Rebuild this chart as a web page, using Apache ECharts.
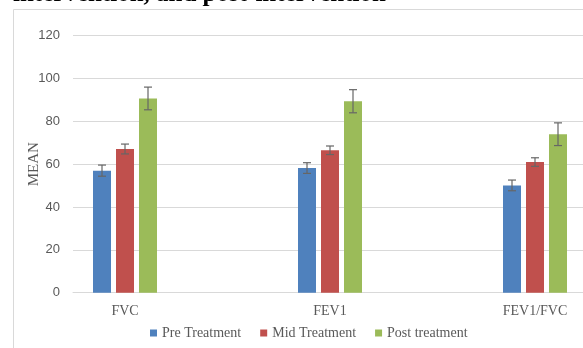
<!DOCTYPE html>
<html>
<head>
<meta charset="utf-8">
<script src="https://cdn.jsdelivr.net/npm/echarts@6/dist/echarts.min.js"></script>
<style>
  html, body { margin: 0; padding: 0; background: #fff; }
  #chart { width: 583px; height: 348px; }
</style>
</head>
<body>
<div id="chart"></div>
<script>
  var categories = ['FVC', 'FEV1', 'FEV1/FVC'];
  var seriesNames = ['Pre Treatment', 'Mid Treatment', 'Post treatment'];
  var preMean = [57, 58.2, 50.1];
  var midMean = [67.1, 66.5, 61];
  var postMean = [90.7, 89.4, 74];
  var preErr = [2.6, 2.5, 2.5];
  var midErr = [2.3, 2, 2];
  var postErr = [5.3, 5.4, 5.3];
  var yTicks = [0, 20, 40, 60, 80, 100, 120];

  var colors = ['#4F81BD', '#C0504D', '#9BBB59'];
  var barW = 18, gapPx = 5;
  var serif = '"Liberation Serif", "Times New Roman", serif';
  var grey = '#595959';

  // ── error bars: whisker centred on each bar of the cluster ──
  function errorSeries(name, means, errs, k) {
    var offset = (k - 1) * (barW + gapPx);
    var data = means.map(function (m, i) { return [i, m - errs[i], m + errs[i]]; });
    return {
      name: name, type: 'custom', xAxisIndex: 1, yAxisIndex: 1, z: 5,
      encode: { x: 0, y: [1, 2] },
      data: data,
      renderItem: function (params, api) {
        var lo = api.coord([api.value(0), api.value(1)]);
        var hi = api.coord([api.value(0), api.value(2)]);
        var x = lo[0] + offset, cap = 4;
        var st = { stroke: '#666', lineWidth: 1.2 };
        return {
          type: 'group',
          children: [
            { type: 'line', shape: { x1: x, y1: lo[1], x2: x, y2: hi[1] }, style: st },
            { type: 'line', shape: { x1: x - cap, y1: lo[1], x2: x + cap, y2: lo[1] }, style: st },
            { type: 'line', shape: { x1: x - cap, y1: hi[1], x2: x + cap, y2: hi[1] }, style: st }
          ]
        };
      }
    };
  }

  function barSeries(name, means, k) {
    return {
      name: name, type: 'bar', xAxisIndex: 1, yAxisIndex: 1,
      barWidth: barW, barGap: (gapPx / barW * 100) + '%',
      itemStyle: { color: colors[k] },
      data: means
    };
  }

  var chart = echarts.init(document.getElementById('chart'), null, { renderer: 'canvas' });
  chart.setOption({
    animation: false,
    graphic: [
      { type: 'rect', z: -10, shape: { x: 13.5, y: 9.5, width: 700, height: 500 },
        style: { fill: '#fff', stroke: '#d9d9d9', lineWidth: 1 } },
      { type: 'text', x: 13, y: -5, z: 10,
        style: { text: 'intervention, and post-intervention', font: 'bold 25px ' + serif,
                 fill: '#000', verticalAlign: 'middle' } }
    ],
    legend: {
      data: seriesNames, left: 145, top: 321, icon: 'rect',
      itemWidth: 7, itemHeight: 7, itemGap: 19,
      textStyle: { fontFamily: serif, fontSize: 14, color: grey }
    },
    grid: [
      { left: 73, right: -20, top: 35.7, bottom: 55.3, outerBoundsMode: 'none' },
      { left: 22.5, width: 615, top: 35.7, bottom: 55.3, outerBoundsMode: 'none' }
    ],
    xAxis: [
      { gridIndex: 0, type: 'value', min: 0, max: 1,
        axisLine: { show: true, lineStyle: { color: '#d9d9d9' } },
        axisTick: { show: false }, axisLabel: { show: false }, splitLine: { show: false } },
      { gridIndex: 1, type: 'category', data: categories,
        axisLine: { show: false }, axisTick: { show: false },
        axisLabel: { fontFamily: serif, fontSize: 14, color: grey, margin: 12 } }
    ],
    yAxis: [
      { gridIndex: 0, type: 'value', min: yTicks[0], max: yTicks[yTicks.length - 1], interval: 20,
        name: 'MEAN', nameLocation: 'middle', nameGap: 31, nameMoveOverlap: false,
        nameTextStyle: { fontFamily: serif, fontSize: 15, color: grey },
        axisLine: { show: false }, axisTick: { show: false },
        axisLabel: { fontFamily: '"Liberation Sans", Arial, sans-serif', fontSize: 13, color: grey, margin: 13 },
        splitLine: { lineStyle: { color: '#d9d9d9' } } },
      { gridIndex: 1, type: 'value', min: yTicks[0], max: yTicks[yTicks.length - 1], interval: 20,
        show: false, splitLine: { show: false } }
    ],
    series: [
      barSeries(seriesNames[0], preMean, 0),
      barSeries(seriesNames[1], midMean, 1),
      barSeries(seriesNames[2], postMean, 2),
      errorSeries('err0', preMean, preErr, 0),
      errorSeries('err1', midMean, midErr, 1),
      errorSeries('err2', postMean, postErr, 2)
    ]
  });
</script>
</body>
</html>
